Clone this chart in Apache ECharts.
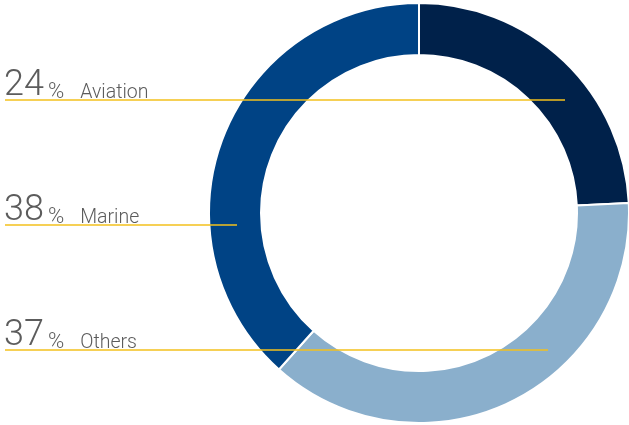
<!DOCTYPE html>
<html>
<head>
<meta charset="utf-8">
<script src="https://cdn.jsdelivr.net/npm/echarts@6/dist/echarts.min.js"></script>
<style>
  html, body { margin: 0; padding: 0; background: #fff; }
  #chart { width: 629px; height: 425px; }
</style>
</head>
<body>
<div id="chart"></div>
<script>
// pie order (clockwise from 12 o'clock)
const categories = ["Aviation", "Others", "Marine"];
const shares = [24, 37, 38];
const colors = ["#00214a", "#8aafcc", "#004385"];

// label rows on the left, top to bottom
const labelOrder = ["Aviation", "Marine", "Others"];
const labelY = [100, 225, 350];
const lineEndX = [565, 237, 548];

const chart = echarts.init(document.getElementById("chart"));

const font = { fontFamily: "Roboto", fontWeight: 300, fill: "#5c5c5c", verticalAlign: "bottom", lineHeight: 34 };
const graphics = [];
labelOrder.forEach((name, i) => {
  const idx = categories.indexOf(name);
  graphics.push({
    type: "text",
    left: 4,
    top: labelY[i] - 32,
    z: 10,
    style: {
      text: `{n|${shares[idx]}}{p|%}{l|${name}}`,
      rich: {
        n: Object.assign({ fontSize: 36 }, font),
        p: Object.assign({ fontSize: 22, padding: [0, 16, 1, 4] }, font),
        l: Object.assign({ fontSize: 19.5, padding: [0, 0, 1, 0] }, font),
      },
    },
  });
  graphics.push({
    type: "line",
    z: 10,
    shape: { x1: 5, y1: labelY[i], x2: lineEndX[i], y2: labelY[i] },
    style: { stroke: "#f3c01c", lineWidth: 1.5 },
  });
});

chart.setOption({
  animation: false,
  graphic: graphics,
  series: [
    {
      type: "pie",
      center: [419, 213],
      radius: [158, 210],
      startAngle: 90,
      clockwise: true,
      label: { show: false },
      labelLine: { show: false },
      itemStyle: { borderColor: "#fff", borderWidth: 2 },
      emphasis: { disabled: true },
      data: categories.map((name, i) => ({
        name: name,
        value: shares[i],
        itemStyle: { color: colors[i] },
      })),
    },
  ],
});
</script>
</body>
</html>
